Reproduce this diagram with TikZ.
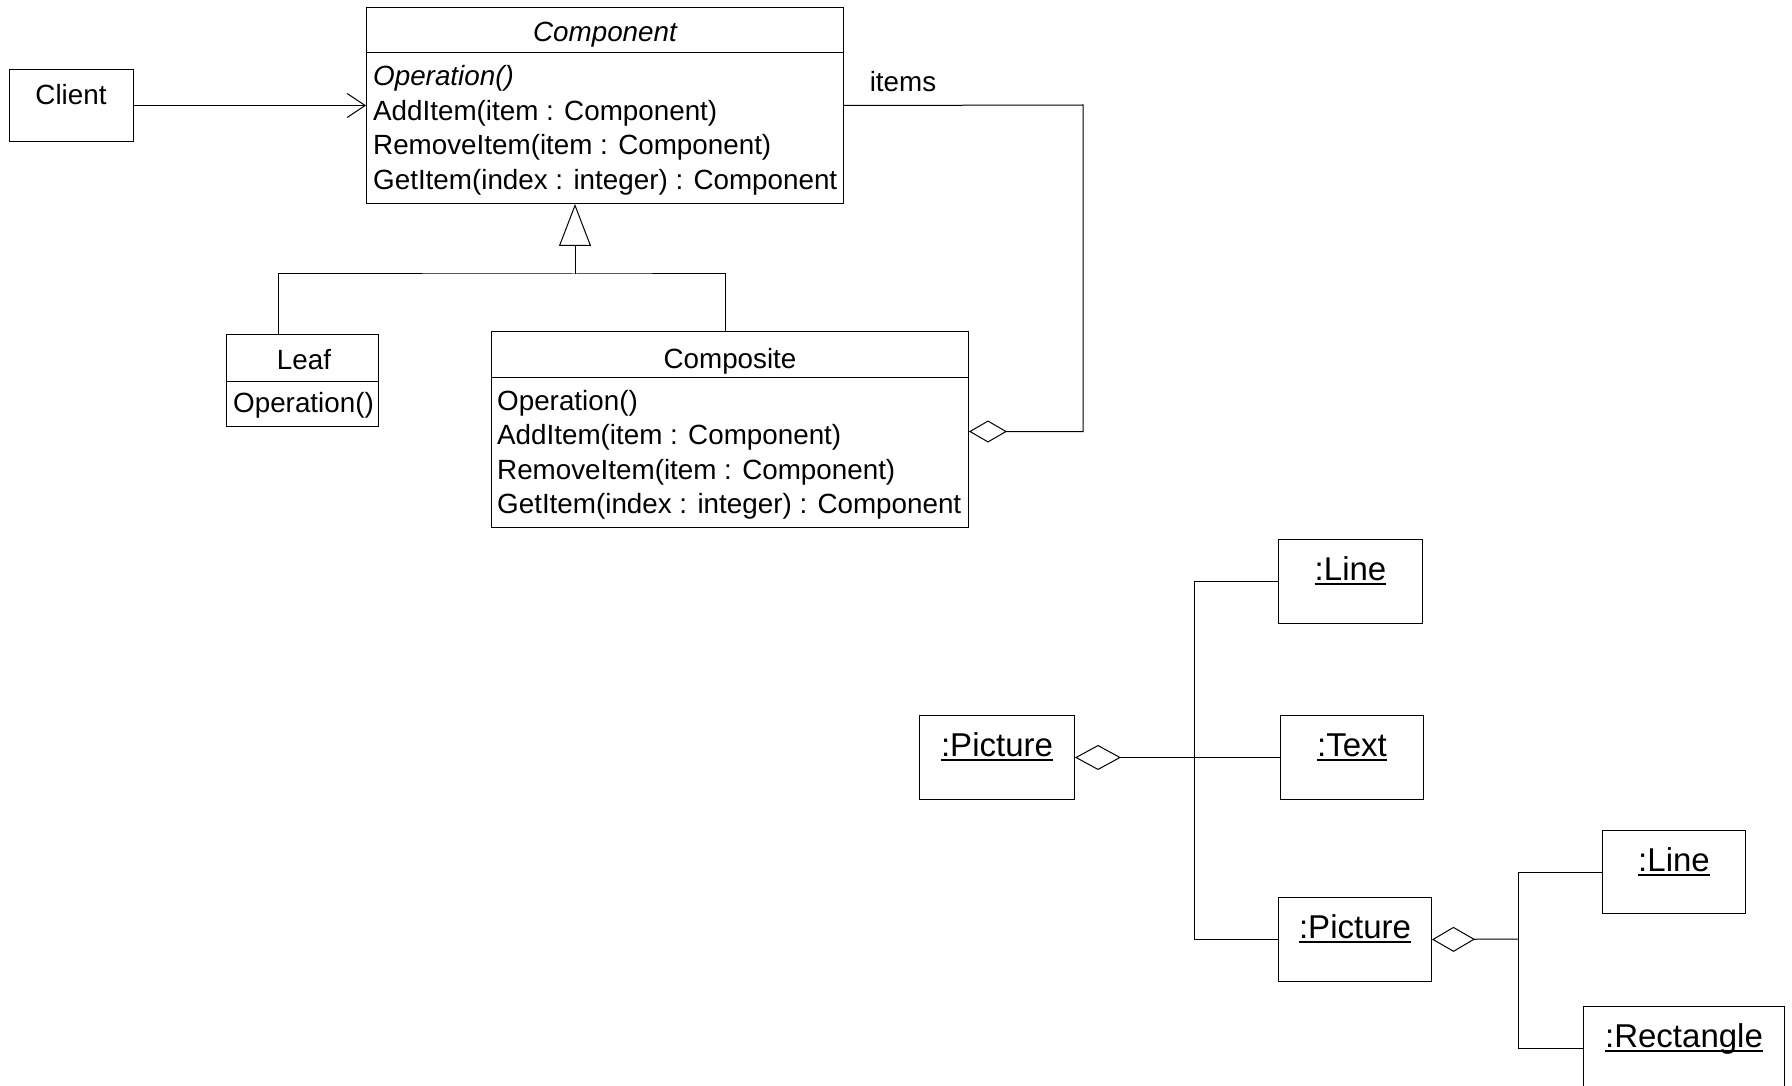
\documentclass[tikz,border=0pt]{standalone}
\usepackage{fontspec}
\setmainfont{Liberation Sans}
\usetikzlibrary{arrows.meta}
\begin{document}
\begin{tikzpicture}[x=1pt,y=-1pt,
  box/.style={draw, line width=1pt, inner sep=0, anchor=north west},
  conn/.style={draw, line width=1pt},
  cls/.style={inner sep=0, text height=20pt, text depth=0pt, font=\fontsize{27.8}{34}\selectfont},
  op/.style={cls, anchor=west},
  obj/.style={inner sep=0, text height=23.6pt, text depth=0pt, font=\fontsize{33}{40}\selectfont},
  aggr/.style={conn, {Diamond[open, length=#1]}-},
  gen/.style={conn, -{Triangle[open, length=42pt, width=32pt]}},
  nav/.style={conn, -{Straight Barb[length=18pt, width=24pt]}},
]
\useasboundingbox (0,0) rectangle (1792,1086);

% ---------- class diagram ----------
\node[box, minimum width=124pt, minimum height=72pt] (client) at (9,69) {};
\node[cls] (clientname) at (71,95) {Client};

\node[box, minimum width=477pt, minimum height=196pt] (comp) at (366,7) {};
\draw[line width=1pt] ([yshift=-46pt]comp.north west) -- ([yshift=-46pt]comp.north east);
\node[cls, font=\fontsize{27.8}{34}\selectfont\itshape] (compname) at (605,32) {Component};
\node[op, font=\fontsize{27.8}{34}\selectfont\itshape] (compop1) at (373,76) {Operation()};
\node[op] (compop2) at (373,110.5) {AddItem(item : Component)};
\node[op] (compop3) at (373,145) {RemoveItem(item : Component)};
\node[op] (compop4) at (373,179.5) {GetItem(index : integer) : Component};

\node[box, minimum width=152pt, minimum height=92pt] (leaf) at (226,334) {};
\draw[line width=1pt] ([yshift=-47pt]leaf.north west) -- ([yshift=-47pt]leaf.north east);
\node[cls] (leafname) at (304,359) {Leaf};
\node[op] (leafop1) at (233,402) {Operation()};

\node[box, minimum width=477pt, minimum height=196pt] (compo) at (491,331) {};
\draw[line width=1pt] ([yshift=-46pt]compo.north west) -- ([yshift=-46pt]compo.north east);
\node[cls] (componame) at (730,358) {Composite};
\node[op] (compoop1) at (497,400) {Operation()};
\node[op] (compoop2) at (497,434.5) {AddItem(item : Component)};
\node[op] (compoop3) at (497,469) {RemoveItem(item : Component)};
\node[op] (compoop4) at (497,503.5) {GetItem(index : integer) : Component};

% client uses component
\draw[nav] (client.east) -- (comp.west);

% generalization tree
\coordinate (gj) at (575,274);
\draw[gen] (gj) -- (gj |- comp.south);
\draw[conn] ([xshift=-24pt]leaf.north) |- (gj) -| ([xshift=-4.5pt]compo.north);

% aggregation of children
\coordinate (ic) at (1083,105);
\draw[aggr={38pt, width=22pt}] ([yshift=-2pt]compo.east) -| (ic) -- (comp.east);
\node[cls] (items) at (903,82) {items};

% ---------- object diagram ----------
\newcommand{\objlabel}[2]{%
  \node[obj] (#1lbl) at ([yshift=-30pt]#1.north) {#2};
  \draw[line width=1.6pt] ([yshift=-3pt]#1lbl.base west) -- ([yshift=-3pt]#1lbl.base east);
}

\node[box, minimum width=155pt, minimum height=84pt] (pic1) at (919,715) {};
\node[box, minimum width=144pt, minimum height=84pt] (line1) at (1278,539) {};
\node[box, minimum width=143pt, minimum height=84pt] (text1) at (1280,715) {};
\node[box, minimum width=153pt, minimum height=84pt] (pic2) at (1278,897) {};
\node[box, minimum width=143pt, minimum height=83pt] (line2) at (1602,830) {};
\node[box, minimum width=201pt, minimum height=84pt] (rect) at (1583,1006) {};

\objlabel{pic1}{:Picture}
\objlabel{line1}{:Line}
\objlabel{text1}{:Text}
\objlabel{pic2}{:Picture}
\objlabel{line2}{:Line}
\objlabel{rect}{:Rectangle}

\coordinate (bus) at (1194,757);
\draw[aggr={46pt, width=25pt}] (pic1.east) -- (text1.west);
\draw[conn] (line1.west) -| (bus) |- (pic2.west);

\coordinate (sbus) at (1518,939);
\draw[aggr={43pt, width=25pt}] (pic2.east) -- (sbus);
\draw[conn] (line2.west) -| (sbus) |- (rect.west);
\end{tikzpicture}
\end{document}
